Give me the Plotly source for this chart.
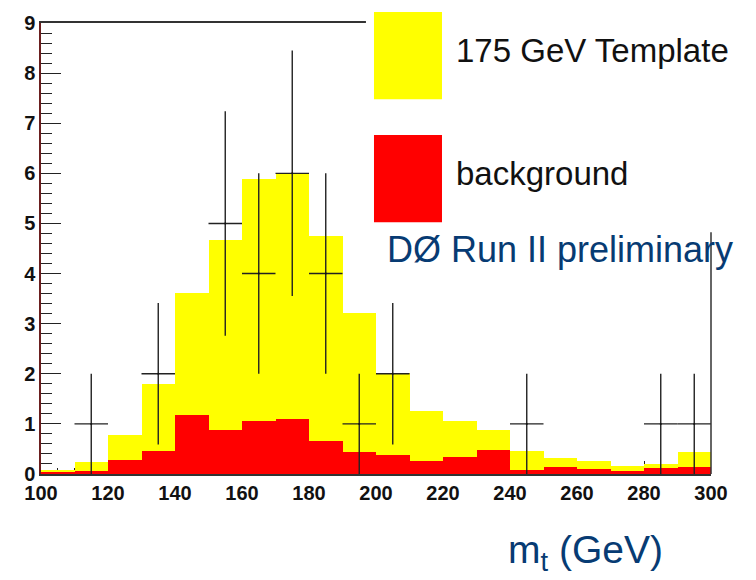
import plotly.graph_objects as go

# ---- data ----
bin_centers = [105, 115, 125, 135, 145, 155, 165, 175, 185, 195,
               205, 215, 225, 235, 245, 255, 265, 275, 285, 295]
template_total = [0.07, 0.24, 0.77, 1.79, 3.62, 4.67, 5.89, 5.98, 4.74, 3.22,
                  2.02, 1.26, 1.05, 0.87, 0.45, 0.31, 0.26, 0.16, 0.19, 0.43]
background = [0.04, 0.05, 0.28, 0.45, 1.17, 0.88, 1.05, 1.10, 0.66, 0.43,
              0.38, 0.26, 0.34, 0.47, 0.08, 0.13, 0.09, 0.05, 0.11, 0.13]
data_x = [115, 135, 155, 165, 175, 185, 195, 205, 245, 285, 295]
data_counts = [1, 2, 5, 4, 6, 4, 1, 2, 1, 1, 1]
data_err = [1.0, 1.41, 2.24, 2.0, 2.45, 2.0, 1.0, 1.41, 1.0, 1.0, 1.0]
bin_width = 10
x_tick_vals = [100, 120, 140, 160, 180, 200, 220, 240, 260, 280, 300]
y_tick_vals = [0, 1, 2, 3, 4, 5, 6, 7, 8, 9]

legend_labels = ["175 GeV Template", "background"]
title_text = "DØ Run II preliminary"
x_title = "m<sub>t</sub> (GeV)"

fig = go.Figure()
fig.add_trace(go.Bar(x=bin_centers, y=template_total, width=bin_width,
                     marker=dict(color="#ffff00", line=dict(width=0)),
                     showlegend=False))
fig.add_trace(go.Bar(x=bin_centers, y=background, width=bin_width,
                     marker=dict(color="#ff0000", line=dict(width=0)),
                     showlegend=False))
fig.add_trace(go.Scatter(
    x=data_x, y=data_counts, mode="markers",
    marker=dict(size=2, color="#111111"),
    error_y=dict(type="data", array=data_err, visible=True,
                 color="#222222", thickness=1.4, width=0),
    error_x=dict(type="constant", value=bin_width / 2, visible=True,
                 color="#222222", thickness=1.4, width=0),
    showlegend=False))

tickfont = dict(family="Liberation Sans, Arial, sans-serif", size=20,
                color="#111111", weight="bold")

fig.update_layout(
    width=756, height=580,
    margin=dict(l=41, r=45, t=19, b=106),
    paper_bgcolor="white", plot_bgcolor="white",
    barmode="overlay", bargap=0,
    showlegend=False,
    xaxis=dict(range=[100, 300], tickvals=x_tick_vals,
               ticks="inside", ticklen=13, tickwidth=1.3, tickcolor="#222222",
               minor=dict(dtick=5, ticks="inside", ticklen=6,
                          tickcolor="#222222", tickwidth=1.2),
               showgrid=False, zeroline=False,
               showline=True, linecolor="#333333", linewidth=1.5, mirror=True,
               tickfont=tickfont, layer="below traces"),
    yaxis=dict(range=[0, 9], tickvals=y_tick_vals,
               ticks="inside", ticklen=20, tickwidth=1.3, tickcolor="#222222",
               minor=dict(dtick=0.2, ticks="inside", ticklen=11,
                          tickcolor="#222222", tickwidth=1.2),
               showgrid=False, zeroline=False,
               showline=True, linecolor="#6b1f1f", linewidth=1.5,
               tickfont=tickfont),
)

shapes = [
    # right frame edge
    dict(type="line", xref="paper", yref="paper", x0=1, x1=1, y0=0, y1=1,
         line=dict(color="#333333", width=1.5), layer="above"),
    # white legend box covering the frame
    dict(type="rect", xref="paper", yref="paper", x0=0.485, x1=1.07,
         y0=0.5363, y1=1.05, fillcolor="white", line=dict(width=0),
         layer="above"),
    # legend swatches
    dict(type="rect", xref="paper", yref="paper", x0=0.497, x1=0.5985,
         y0=0.8308, y1=1.0242, fillcolor="#ffff00", line=dict(width=0),
         layer="above"),
    dict(type="rect", xref="paper", yref="paper", x0=0.497, x1=0.5985,
         y0=0.5582, y1=0.7516, fillcolor="#ff0000", line=dict(width=0),
         layer="above"),
]
fig.update_layout(shapes=shapes)

legfont = dict(family="Liberation Sans, Arial, sans-serif", size=33, color="#111111")
fig.add_annotation(x=0.617, y=0.94, xref="paper", yref="paper",
                   text=legend_labels[0], showarrow=False,
                   xanchor="left", yanchor="middle", font=legfont)
fig.add_annotation(x=0.617, y=0.667, xref="paper", yref="paper",
                   text=legend_labels[1], showarrow=False,
                   xanchor="left", yanchor="middle", font=legfont)
fig.add_annotation(x=0.514, y=0.497, xref="paper", yref="paper",
                   text=title_text, showarrow=False,
                   xanchor="left", yanchor="middle",
                   font=dict(family="Liberation Sans, Arial, sans-serif",
                             size=36, color="#073b73"))
fig.add_annotation(x=0.812, y=-0.175, xref="paper", yref="paper",
                   text=x_title, showarrow=False,
                   xanchor="center", yanchor="middle",
                   font=dict(family="Liberation Sans, Arial, sans-serif",
                             size=39, color="#073b73"))

fig.write_html("out.html")
